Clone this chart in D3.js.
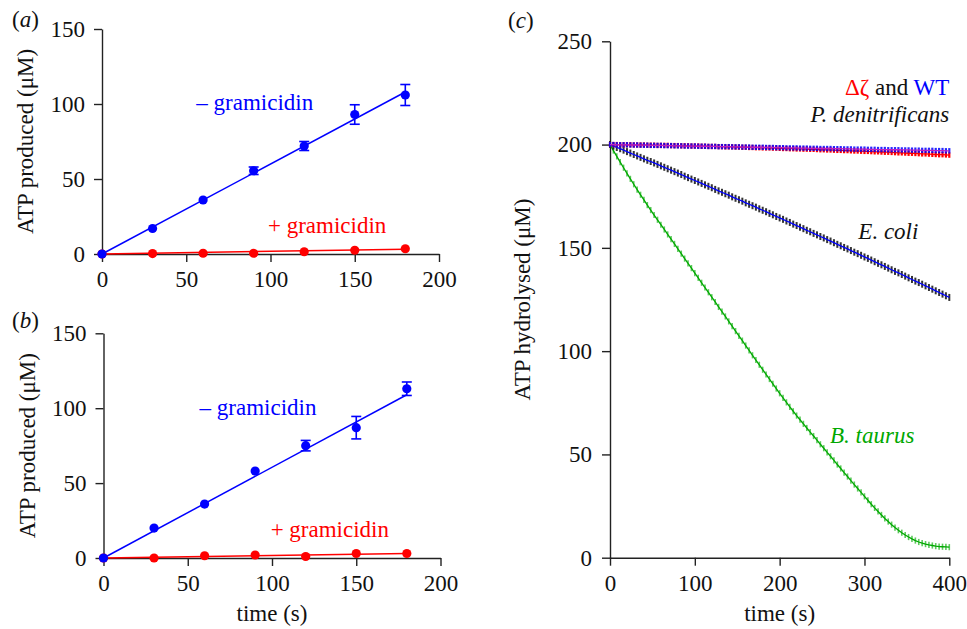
<!DOCTYPE html>
<html>
<head>
<meta charset="utf-8">
<script src="https://cdn.jsdelivr.net/npm/d3@7"></script>
<style>
  body { margin: 0; background: #fff; }
  svg { display: block; }
  svg text { font-family: "Liberation Serif", "Tinos", "Times New Roman", Times, "DejaVu Serif", serif; }
  .axis path, .axis line { stroke: #222; stroke-width: 1.4; }
  .axis text { font-size: 23px; fill: #111; }
</style>
</head>
<body>
<div id="chart"></div>
<script>
var width = 967;
var height = 629;
var FONT = "'Liberation Serif', 'Tinos', 'Times New Roman', Times, 'DejaVu Serif', serif";

// panels (a) and (b): sampling times and ATP produced
var sampleTimes = [0, 30, 60, 90, 120, 150, 180];
var aMinus = [0, 17, 36, 55.5, 72, 93, 106];
var aMinusErr = [0, 0, 0, 2.5, 3, 6.5, 7];
var aPlus = [0, 0.3, 0.5, 0.5, 1.5, 2.5, 3.5];
var bMinus = [0, 20, 36, 58, 75, 87, 113];
var bMinusErr = [0, 0, 0, 0, 3.5, 7.5, 4.5];
var bPlus = [0, 0, 1.5, 2, 1, 3, 3];

// linear fits, value at t = 0 and t = 180
var fitTimes = [0, 180];
var aMinusFit = [0, 108];
var aPlusFit = [0, 3.2];
var bMinusFit = [0, 109];
var bPlusFit = [0, 3];

var yTicksAB = [0, 50, 100, 150];
var xTicksAB = [0, 50, 100, 150, 200];

// panel (c): ATP hydrolysed every 4 s
var timesC = [0, 4, 8, 12, 16, 20, 24, 28, 32, 36, 40, 44, 48, 52, 56, 60, 64, 68, 72, 76,
  80, 84, 88, 92, 96, 100, 104, 108, 112, 116, 120, 124, 128, 132, 136, 140, 144, 148, 152, 156,
  160, 164, 168, 172, 176, 180, 184, 188, 192, 196, 200, 204, 208, 212, 216, 220, 224, 228, 232, 236,
  240, 244, 248, 252, 256, 260, 264, 268, 272, 276, 280, 284, 288, 292, 296, 300, 304, 308, 312, 316,
  320, 324, 328, 332, 336, 340, 344, 348, 352, 356, 360, 364, 368, 372, 376, 380, 384, 388, 392, 396, 400];

var wtC = [200.0, 200.0, 199.9, 199.9, 199.9, 199.9, 199.8, 199.8, 199.8, 199.7, 199.7, 199.7, 199.6, 199.6, 199.6, 199.6, 199.5, 199.5, 199.5, 199.4,
  199.4, 199.4, 199.3, 199.3, 199.3, 199.3, 199.2, 199.2, 199.2, 199.1, 199.1, 199.1, 199.0, 199.0, 199.0, 199.0, 198.9, 198.9, 198.9, 198.8,
  198.8, 198.8, 198.7, 198.7, 198.7, 198.7, 198.6, 198.6, 198.6, 198.5, 198.5, 198.5, 198.4, 198.4, 198.4, 198.4, 198.3, 198.3, 198.3, 198.2,
  198.2, 198.2, 198.1, 198.1, 198.1, 198.1, 198.0, 198.0, 198.0, 197.9, 197.9, 197.9, 197.8, 197.8, 197.8, 197.8, 197.7, 197.7, 197.7, 197.6,
  197.6, 197.6, 197.5, 197.5, 197.5, 197.5, 197.4, 197.4, 197.4, 197.3, 197.3, 197.3, 197.2, 197.2, 197.2, 197.2, 197.1, 197.1, 197.1, 197.0, 197.0];

var dzetaC = [200.0, 200.0, 200.0, 199.9, 199.9, 199.9, 199.9, 199.8, 199.8, 199.8, 199.8, 199.7, 199.7, 199.7, 199.6, 199.6, 199.6, 199.6, 199.5, 199.5,
  199.5, 199.4, 199.4, 199.4, 199.3, 199.3, 199.3, 199.2, 199.2, 199.1, 199.1, 199.1, 199.0, 199.0, 198.9, 198.9, 198.9, 198.8, 198.8, 198.7,
  198.7, 198.6, 198.6, 198.5, 198.5, 198.4, 198.4, 198.4, 198.3, 198.3, 198.2, 198.1, 198.1, 198.0, 198.0, 197.9, 197.9, 197.8, 197.8, 197.7,
  197.7, 197.6, 197.5, 197.5, 197.4, 197.4, 197.3, 197.2, 197.2, 197.1, 197.1, 197.0, 196.9, 196.9, 196.8, 196.7, 196.7, 196.6, 196.5, 196.5,
  196.4, 196.3, 196.3, 196.2, 196.1, 196.0, 196.0, 195.9, 195.8, 195.8, 195.7, 195.6, 195.5, 195.5, 195.4, 195.3, 195.2, 195.1, 195.1, 195.0, 194.9];

var ecoliC = [200.0, 199.3, 198.6, 198.0, 197.3, 196.6, 195.9, 195.2, 194.5, 193.8, 193.1, 192.4, 191.8, 191.1, 190.4, 189.7, 189.0, 188.3, 187.6, 186.9,
  186.2, 185.5, 184.7, 184.0, 183.3, 182.6, 181.9, 181.2, 180.5, 179.8, 179.1, 178.3, 177.6, 176.9, 176.2, 175.5, 174.7, 174.0, 173.3, 172.6,
  171.8, 171.1, 170.4, 169.7, 168.9, 168.2, 167.5, 166.7, 166.0, 165.2, 164.5, 163.8, 163.0, 162.3, 161.5, 160.8, 160.0, 159.3, 158.5, 157.8,
  157.0, 156.3, 155.5, 154.8, 154.0, 153.3, 152.5, 151.7, 151.0, 150.2, 149.5, 148.7, 147.9, 147.2, 146.4, 145.6, 144.9, 144.1, 143.3, 142.5,
  141.8, 141.0, 140.2, 139.4, 138.6, 137.9, 137.1, 136.3, 135.5, 134.7, 133.9, 133.2, 132.4, 131.6, 130.8, 130.0, 129.2, 128.4, 127.6, 126.8, 126.0];

var taurusC = [200.0, 197.1, 194.3, 191.5, 188.8, 186.1, 183.4, 180.8, 178.2, 175.7, 173.2, 170.7, 168.3, 165.9, 163.6, 161.2, 158.9, 156.5, 154.2, 151.9,
  149.5, 147.2, 144.8, 142.5, 140.2, 137.8, 135.5, 133.1, 130.8, 128.5, 126.1, 123.8, 121.4, 119.1, 116.8, 114.4, 112.1, 109.7, 107.4, 105.1,
  102.7, 100.4, 98.0, 95.7, 93.4, 91.0, 88.7, 86.5, 84.2, 81.9, 79.6, 77.4, 75.2, 73.0, 70.9, 68.8, 66.8, 64.8, 62.8, 60.8,
  58.9, 56.9, 54.9, 53.0, 51.0, 49.1, 47.1, 45.1, 43.2, 41.2, 39.3, 37.3, 35.4, 33.5, 31.6, 29.7, 27.8, 25.9, 24.1, 22.4,
  20.7, 19.0, 17.5, 16.0, 14.6, 13.3, 12.1, 11.0, 10.0, 9.1, 8.3, 7.6, 7.1, 6.6, 6.2, 5.9, 5.6, 5.4, 5.3, 5.2, 5.1];

// error (±) of each trace in panel (c)
var errC = { wt: 1.3, dzeta: 1.3, ecoli: 1.7, taurus: 1.5 };

var yTicksC = [0, 50, 100, 150, 200, 250];
var xTicksC = [0, 100, 200, 300, 400];

var BLUE = "#0000ff", RED = "#ff0000", GREEN = "#00a800";

var svg = d3.select("#chart").append("svg")
  .attr("width", width)
  .attr("height", height);

function rows(xs, ys, es) {
  return xs.map(function(x, i) { return { x: x, y: ys[i], e: es ? es[i] : 0 }; });
}

function drawAxes(x, y, xt, yt, ypad, xpad) {
  var gx = svg.append("g").attr("class", "axis")
    .attr("transform", "translate(0," + y.range()[0] + ")")
    .call(d3.axisBottom(x).tickValues(xt).tickSize(8).tickSizeOuter(0).tickPadding(xpad));
  var gy = svg.append("g").attr("class", "axis")
    .attr("transform", "translate(" + x.range()[0] + ",0)")
    .call(d3.axisLeft(y).tickValues(yt).tickSize(8).tickSizeOuter(0).tickPadding(ypad));
  gx.attr("font-family", FONT).attr("font-size", 23);
  gy.attr("font-family", FONT).attr("font-size", 23);
}

function label(x, y, size, color) {
  return svg.append("text").attr("x", x).attr("y", y)
    .attr("font-family", FONT).attr("font-size", size).attr("fill", color);
}

function drawSmall(x, y, minus, minusErr, plus, minusFit, plusFit, minusLab, plusLab) {
  var line = d3.line().x(function(d) { return x(d.x); }).y(function(d) { return y(d.y); });
  drawAxes(x, y, xTicksAB, yTicksAB, 9, 9);

  // fits
  svg.append("path").datum(rows(fitTimes, plusFit))
    .attr("d", line).attr("fill", "none").attr("stroke", RED).attr("stroke-width", 1.5);
  svg.append("path").datum(rows(fitTimes, minusFit))
    .attr("d", line).attr("fill", "none").attr("stroke", BLUE).attr("stroke-width", 1.5);

  // error bars
  var eb = svg.append("g").selectAll("g")
    .data(rows(sampleTimes, minus, minusErr).filter(function(d) { return d.e > 0; }))
    .enter().append("g").attr("stroke", BLUE).attr("stroke-width", 1.6);
  eb.append("line")
    .attr("x1", function(d) { return x(d.x); }).attr("x2", function(d) { return x(d.x); })
    .attr("y1", function(d) { return y(d.y - d.e); }).attr("y2", function(d) { return y(d.y + d.e); });
  eb.append("line")
    .attr("x1", function(d) { return x(d.x) - 5; }).attr("x2", function(d) { return x(d.x) + 5; })
    .attr("y1", function(d) { return y(d.y - d.e); }).attr("y2", function(d) { return y(d.y - d.e); });
  eb.append("line")
    .attr("x1", function(d) { return x(d.x) - 5; }).attr("x2", function(d) { return x(d.x) + 5; })
    .attr("y1", function(d) { return y(d.y + d.e); }).attr("y2", function(d) { return y(d.y + d.e); });

  svg.append("g").selectAll("circle")
    .data(rows(sampleTimes, plus)).enter().append("circle")
    .attr("cx", function(d) { return x(d.x); })
    .attr("cy", function(d) { return y(d.y); })
    .attr("r", 4.6).attr("fill", RED);
  svg.append("g").selectAll("circle")
    .data(rows(sampleTimes, minus)).enter().append("circle")
    .attr("cx", function(d) { return x(d.x); })
    .attr("cy", function(d) { return y(d.y); })
    .attr("r", 4.6).attr("fill", BLUE);

  label(x(minusLab[0]), y(minusLab[1]), 23, BLUE).text("\u2013 gramicidin");
  label(x(plusLab[0]), y(plusLab[1]), 23, RED).text("+ gramicidin");

  label(0, 0, 23, "#111")
    .attr("transform", "translate(" + (x.range()[0] - 69) + "," + ((y.range()[0] + y.range()[1]) / 2) + ") rotate(-90)")
    .attr("text-anchor", "middle")
    .text("ATP produced (\u03bcM)");
}

// panel (a)
var xA = d3.scaleLinear().domain([0, 200]).range([102, 439]);
var yA = d3.scaleLinear().domain([0, 150]).range([254, 29]);
drawSmall(xA, yA, aMinus, aMinusErr, aPlus, aMinusFit, aPlusFit, [56, 96], [98.5, 14]);

// panel (b)
var xB = d3.scaleLinear().domain([0, 200]).range([103.5, 440.5]);
var yB = d3.scaleLinear().domain([0, 150]).range([558, 333.3]);
drawSmall(xB, yB, bMinus, bMinusErr, bPlus, bMinusFit, bPlusFit, [57, 95.5], [99.2, 13.8]);

label(xB(100), 621, 23, "#111").attr("text-anchor", "middle").text("time (s)");

// panel (c)
var xC = d3.scaleLinear().domain([0, 400]).range([610, 949.3]);
var yC = d3.scaleLinear().domain([0, 250]).range([557.7, 41.3]);
drawAxes(xC, yC, xTicksC, yTicksC, 10, 9);

var lineC = d3.line().x(function(d) { return xC(d.x); }).y(function(d) { return yC(d.y); });

function errTrace(vals, e, barColor, barOpacity, barWidth, lineColor) {
  var data = rows(timesC, vals);
  svg.append("g").selectAll("line")
    .data(data).enter().append("line")
    .attr("x1", function(d) { return xC(d.x); }).attr("x2", function(d) { return xC(d.x); })
    .attr("y1", function(d) { return yC(d.y - e); }).attr("y2", function(d) { return yC(d.y + e); })
    .attr("stroke", barColor).attr("stroke-opacity", barOpacity).attr("stroke-width", barWidth);
  svg.append("path").datum(data)
    .attr("d", lineC).attr("fill", "none").attr("stroke", lineColor).attr("stroke-width", 1.3);
}

errTrace(taurusC, errC.taurus, "#33bb33", 0.8, 1.6, GREEN);
errTrace(ecoliC, errC.ecoli, "#111", 0.85, 2, BLUE);
errTrace(dzetaC, errC.dzeta, RED, 1, 2.2, RED);
errTrace(wtC, errC.wt, BLUE, 0.85, 2.2, "#c020c0");

var lab1 = label(xC(400), yC(224), 23, "#111").attr("text-anchor", "end");
lab1.append("tspan").attr("fill", RED).text("\u0394\u03b6");
lab1.append("tspan").attr("fill", "#111").text(" and ");
lab1.append("tspan").attr("fill", BLUE).text("WT");

label(xC(400), yC(210.9), 23, "#111").attr("text-anchor", "end")
  .attr("font-style", "italic").text("P. denitrificans");
label(xC(292.8), yC(154.3), 23, "#111")
  .attr("font-style", "italic").text("E. coli");
label(xC(259.4), yC(55.7), 23, GREEN)
  .attr("font-style", "italic").text("B. taurus");

label(0, 0, 23, "#111")
  .attr("transform", "translate(530," + ((yC.range()[0] + yC.range()[1]) / 2) + ") rotate(-90)")
  .attr("text-anchor", "middle")
  .text("ATP hydrolysed (\u03bcM)");
label(xC(200), 621, 23, "#111").attr("text-anchor", "middle").text("time (s)");

// panel letters
function panelLetter(x, y, letter) {
  var t = label(x, y, 23, "#111");
  t.append("tspan").text("(");
  t.append("tspan").attr("font-style", "italic").text(letter);
  t.append("tspan").text(")");
}
panelLetter(12, 27, "a");
panelLetter(12, 328, "b");
panelLetter(508, 28, "c");
</script>
</body>
</html>
